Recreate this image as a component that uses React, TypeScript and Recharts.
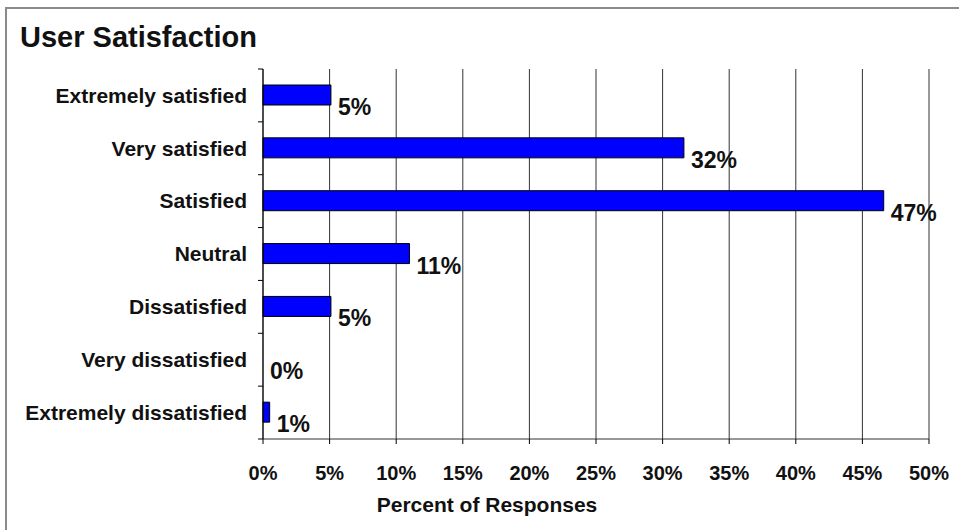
import { BarChart, Bar, XAxis, YAxis, CartesianGrid, LabelList, Cell } from "recharts"

const categories = [
  "Extremely satisfied",
  "Very satisfied",
  "Satisfied",
  "Neutral",
  "Dissatisfied",
  "Very dissatisfied",
  "Extremely dissatisfied",
]
const percents = [5.1, 31.6, 46.6, 11.0, 5.1, 0, 0.5]
const percentLabels = ["5%", "32%", "47%", "11%", "5%", "0%", "1%"]
const xTicks = [0, 5, 10, 15, 20, 25, 30, 35, 40, 45, 50]

const data = categories.map((name, i) => ({ name, value: percents[i], label: percentLabels[i] }))

const FONT = '"Liberation Sans", Arial, sans-serif'
const W = 959
const H = 530
const M = { top: 69, right: 30, left: 0, bottom: 0 }
const X_AXIS_H = 91
const TICK = 5
const TICK_GAP = 11
const band = (H - M.top - M.bottom - X_AXIS_H) / categories.length

function CategoryTick(props: any) {
  const { x, y, payload, index } = props
  const axisX = x + TICK + TICK_GAP
  const top = y - band / 2
  return (
    <g>
      <line x1={axisX - TICK} x2={axisX} y1={top} y2={top} stroke="#000" />
      {index === categories.length - 1 && (
        <line x1={axisX - TICK} x2={axisX} y1={top + band} y2={top + band} stroke="#000" />
      )}
      <text x={x} y={y} dy="0.35em" textAnchor="end" fontFamily={FONT} fontWeight="bold" fontSize={21} fill="#111">
        {payload.value}
      </text>
    </g>
  )
}

function ValueLabel(props: any) {
  const { x, y, width, height, value } = props
  return (
    <text
      x={x + width + 7}
      y={y + height / 2 + 12}
      dy="0.35em"
      fontFamily={FONT}
      fontWeight="bold"
      fontSize={23}
      fill="#111"
    >
      {value}
    </text>
  )
}

export default function App() {
  return (
    <div style={{ position: "fixed", left: 0, top: 0, width: W, height: H, background: "#fff", overflow: "hidden" }}>
      <div
        style={{
          position: "absolute",
          left: 5,
          top: 7,
          width: W,
          height: H,
          borderLeft: "2px solid #8a8a8a",
          borderTop: "2px solid #8a8a8a",
        }}
      />
      <div
        style={{
          position: "absolute",
          left: 20,
          top: 23,
          fontFamily: FONT,
          fontWeight: "bold",
          fontSize: 29,
          lineHeight: 1,
          color: "#111",
          whiteSpace: "nowrap",
        }}
      >
        User Satisfaction
      </div>
      <div style={{ position: "absolute", left: 0, top: 0 }}>
        <BarChart width={W} height={H} data={data} layout="vertical" margin={M}>
          <CartesianGrid horizontal={false} vertical stroke="#333" />
          <XAxis
            type="number"
            domain={[0, 50]}
            ticks={xTicks}
            interval={0}
            tickFormatter={(v) => `${v}%`}
            height={X_AXIS_H}
            axisLine={{ stroke: "#333" }}
            tickLine={{ stroke: "#000" }}
            tickSize={5}
            tickMargin={22}
            tick={{ fontFamily: FONT, fontWeight: "bold", fontSize: 20, fill: "#111" }}
            label={{
              value: "Percent of Responses",
              position: "insideBottom",
              offset: 18,
              dx: -109,
              style: { fontFamily: FONT, fontWeight: "bold", fontSize: 21, fill: "#111" },
            }}
          />
          <YAxis
            type="category"
            dataKey="name"
            width={263}
            interval={0}
            axisLine={{ stroke: "#000" }}
            tickLine={false}
            tickSize={TICK}
            tickMargin={TICK_GAP}
            tick={<CategoryTick />}
          />
          <Bar
            dataKey="value"
            fill="#0000ff"
            stroke="#000"
            strokeWidth={1}
            barSize={20}
            minPointSize={(v: any) => (v === 0 ? 0.01 : 0)}
            isAnimationActive={false}
          >
            {data.map((d, i) => (
              <Cell key={i} stroke={d.value === 0 ? "none" : "#000"} />
            ))}
            <LabelList dataKey="label" content={<ValueLabel />} />
          </Bar>
        </BarChart>
      </div>
    </div>
  )
}
